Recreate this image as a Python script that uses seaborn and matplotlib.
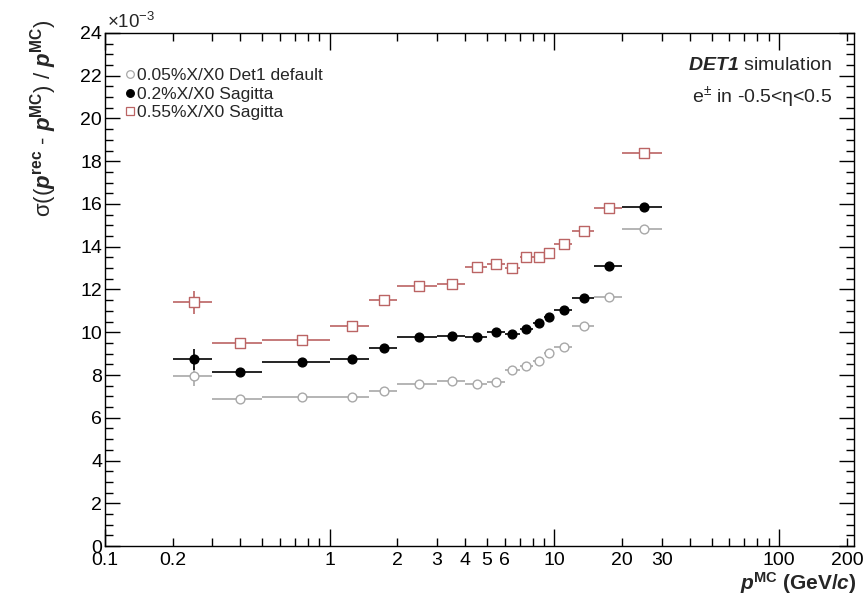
"""
Momentum resolution vs p for three tracker material budgets (ROOT-style plot).
"""

import matplotlib

matplotlib.use("Agg")
import matplotlib.pyplot as plt
import numpy as np
import pandas as pd
import seaborn as sns
from matplotlib.lines import Line2D
from matplotlib.ticker import FixedLocator, FuncFormatter, LogLocator, MultipleLocator

# momentum bins (GeV/c), points at the bin centre
BIN_LOW = [0.2, 0.3, 0.5, 1.0, 1.5, 2, 3, 4, 5, 6, 7, 8, 9, 10, 12, 15, 20]
BIN_HIGH = [0.3, 0.5, 1.0, 1.5, 2, 3, 4, 5, 6, 7, 8, 9, 10, 12, 15, 20, 30]

# sigma(dp/p) in units of 1e-3
RES_DEFAULT = [7.94, 6.89, 6.98, 6.96, 7.25, 7.56, 7.72, 7.59, 7.69, 8.23,
               8.43, 8.64, 9.02, 9.33, 10.27, 11.66, 14.83]
RES_SAG02 = [8.73, 8.14, 8.62, 8.75, 9.25, 9.79, 9.82, 9.76, 10.00, 9.92,
             10.14, 10.45, 10.70, 11.04, 11.62, 13.11, 15.87]
RES_SAG055 = [11.40, 9.48, 9.62, 10.31, 11.53, 12.18, 12.24, 13.07, 13.18, 12.99,
              13.53, 13.53, 13.69, 14.11, 14.74, 15.83, 18.40]

ERR_DEFAULT = [0.45, 0.10, 0.08, 0.08, 0.08, 0.08, 0.08, 0.08, 0.08, 0.08,
               0.08, 0.08, 0.08, 0.08, 0.10, 0.10, 0.12]
ERR_SAG02 = [0.50, 0.12, 0.08, 0.08, 0.08, 0.08, 0.08, 0.08, 0.08, 0.08,
             0.08, 0.08, 0.08, 0.08, 0.10, 0.10, 0.12]
ERR_SAG055 = [0.55, 0.12, 0.08, 0.08, 0.08, 0.08, 0.08, 0.08, 0.08, 0.08,
              0.08, 0.08, 0.08, 0.08, 0.10, 0.10, 0.12]

LABELS = ["0.05%X/X0 Det1 default", "0.2%X/X0 Sagitta", "0.55%X/X0 Sagitta"]
X_TICK_LABELS = [0.1, 0.2, 1, 2, 3, 4, 5, 6, 10, 20, 30, 100, 200]

sns.set_theme(style="ticks")
plt.rcParams["font.family"] = ["Liberation Sans", "DejaVu Sans"]
plt.rcParams["mathtext.fontset"] = "custom"
plt.rcParams["mathtext.rm"] = "Liberation Sans"
plt.rcParams["mathtext.it"] = "Liberation Sans:italic"
plt.rcParams["mathtext.bf"] = "Liberation Sans:bold"
plt.rcParams["mathtext.bfit"] = "Liberation Sans:bold:italic"

lo = np.array(BIN_LOW)
hi = np.array(BIN_HIGH)
centre = 0.5 * (lo + hi)

series = [
    (RES_DEFAULT, ERR_DEFAULT, "#a8a8a8", "o", "white", 40),
    (RES_SAG02, ERR_SAG02, "black", "o", "black", 40),
    (RES_SAG055, ERR_SAG055, "#bb6464", "s", "white", 50),
]

fig = plt.figure(figsize=(8.66, 6.04), dpi=100)
ax = fig.add_axes([0.1212, 0.096, 0.8649, 0.8494])

handles = []
for (vals, errs, col, mk, face, size), lab in zip(series, LABELS):
    df = pd.DataFrame({"p": centre, "res": vals})
    ax.errorbar(df["p"], df["res"], xerr=[centre - lo, hi - centre], yerr=errs,
                fmt="none", ecolor=col, elinewidth=1.2, capsize=0, zorder=2)
    sns.scatterplot(data=df, x="p", y="res", ax=ax, marker=mk, s=size,
                    color=face, edgecolor=col, linewidth=1.0, zorder=3, legend=False)
    handles.append(Line2D([], [], linestyle="none", marker=mk, markersize=5.5,
                          markerfacecolor=face, markeredgecolor=col, markeredgewidth=0.9))

ax.set_xscale("log")
ax.set_xlim(0.1, 215)
ax.set_ylim(0, 24)

# ROOT-like ticks on all four sides, pointing in
ax.xaxis.set_major_locator(FixedLocator([0.1, 1, 10, 100]))
ax.xaxis.set_minor_locator(LogLocator(base=10, subs=np.arange(2, 10)))
fmt = FuncFormatter(lambda v, pos: f"{v:g}" if any(np.isclose(v, t) for t in X_TICK_LABELS) else "")
ax.xaxis.set_major_formatter(fmt)
ax.xaxis.set_minor_formatter(fmt)
ax.yaxis.set_major_locator(MultipleLocator(2))
ax.yaxis.set_minor_locator(MultipleLocator(0.5))
ax.tick_params(which="both", direction="in", top=True, right=True, width=1.0,
               colors="black", labelsize=14)
ax.tick_params(axis="x", which="major", length=12, pad=4)
ax.tick_params(axis="x", which="minor", length=5.5, pad=4)
ax.tick_params(axis="y", which="major", length=11, pad=2)
ax.tick_params(axis="y", which="minor", length=5.5)
for sp in ax.spines.values():
    sp.set_linewidth(1.0)
    sp.set_color("black")
ax.set_xlabel("")
ax.set_ylabel("")

fig.text(0.1235, 0.964, r"$\times$10$^{-3}$", fontsize=13.5, va="center", ha="left")

fig.text(0.05, 0.968,
         "σ((" + r"$\mathbfit{p}^{\mathbf{rec}}$" + " - " + r"$\mathbfit{p}^{\mathbf{MC}}$"
         + ") / " + r"$\mathbfit{p}^{\mathbf{MC}}$" + ")",
         rotation=90, ha="center", va="top", fontsize=16)
fig.text(0.989, 0.034, r"$\mathbfit{p}^{\mathbf{MC}}$ (GeV/$\mathbfit{c}$)",
         ha="right", va="center", fontsize=15, fontweight="bold")

ax.legend(handles, LABELS, loc="upper left", bbox_to_anchor=(0.028, 0.932),
          frameon=False, fontsize=12.5, handlelength=0.5, handletextpad=0.15,
          labelspacing=0.2, borderaxespad=0, borderpad=0)

fig.text(0.961, 0.891, r"$\mathbfit{DET1}$ simulation", ha="right", va="center", fontsize=14)
fig.text(0.961, 0.838, r"e$^{\pm}$ in -0.5<η<0.5", ha="right", va="center", fontsize=14)

fig.savefig("out.png", dpi=100)
